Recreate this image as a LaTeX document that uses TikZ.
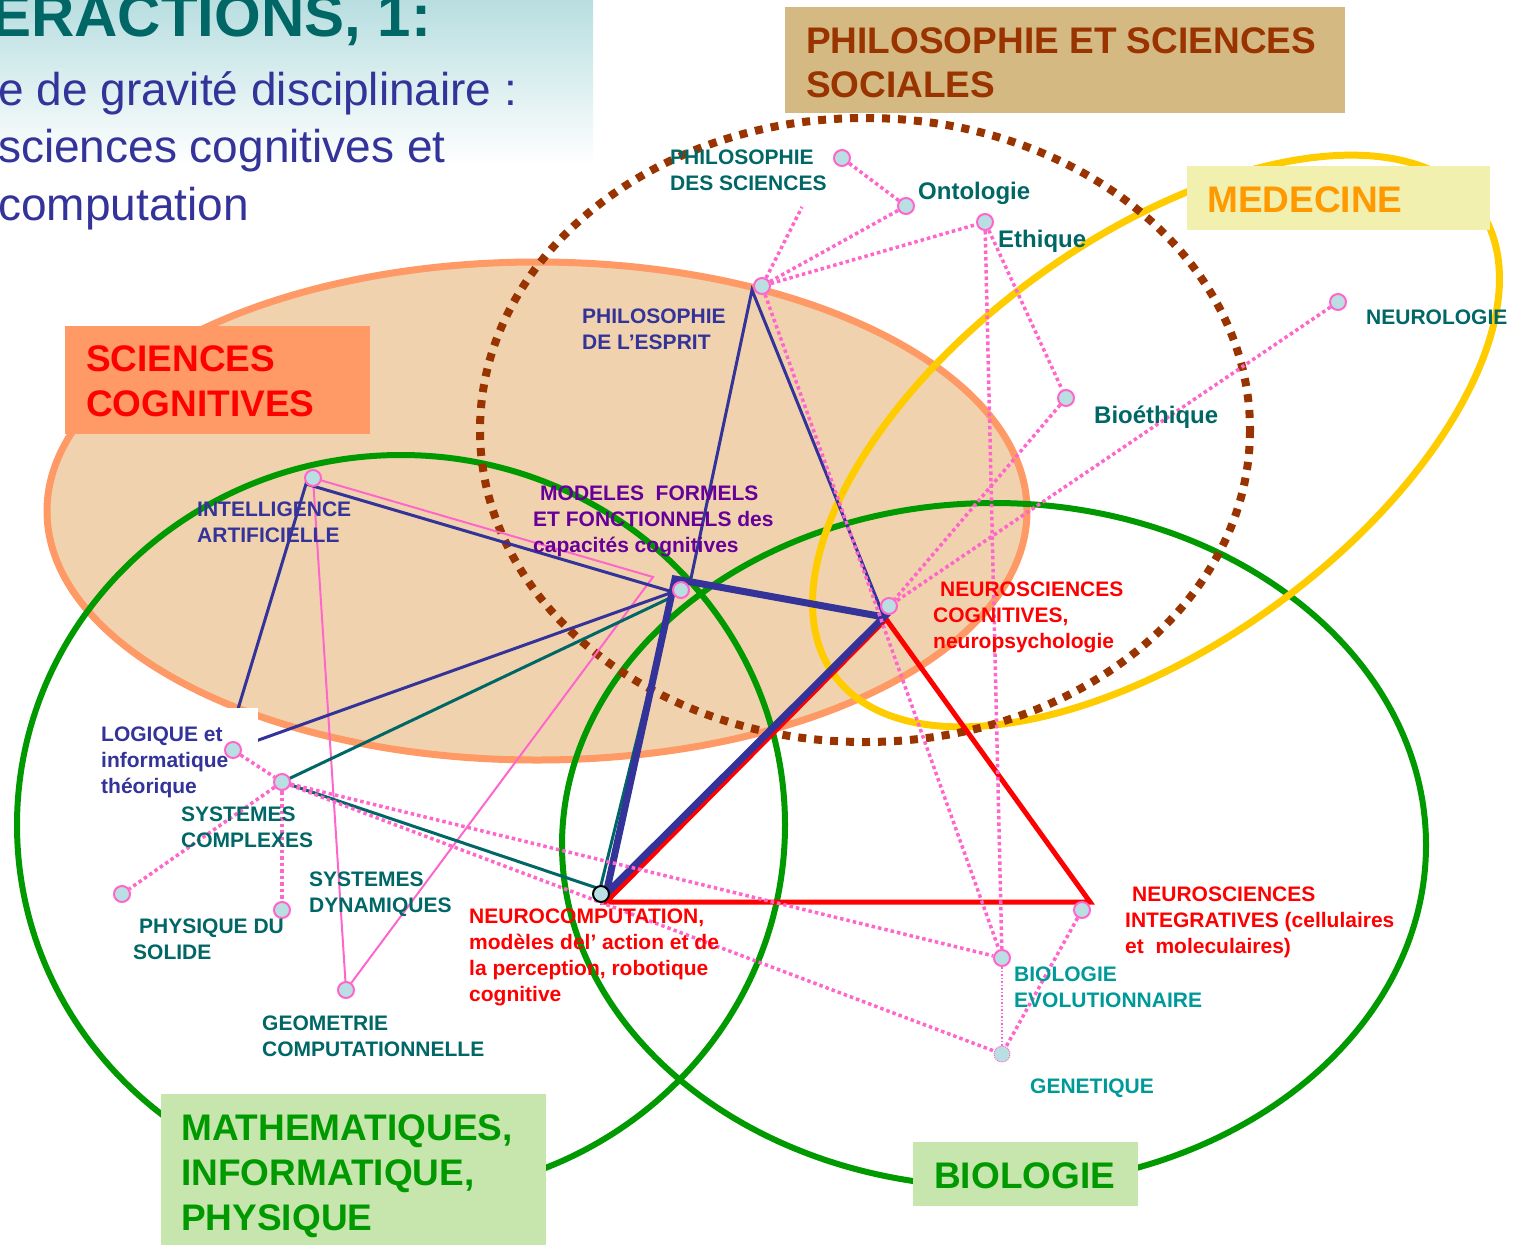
\documentclass[tikz,border=0pt]{standalone}
\usepackage{fontspec}
\setmainfont{Liberation Sans}
\definecolor{tealc}{HTML}{006666}
\definecolor{teallt}{HTML}{009999}
\definecolor{bluec}{HTML}{333399}
\definecolor{purplec}{HTML}{660099}
\definecolor{redc}{HTML}{FF0000}
\definecolor{pinkc}{HTML}{FF66CC}
\definecolor{dotfill}{HTML}{B9DFE3}
\definecolor{orangef}{HTML}{F0D3AE}
\definecolor{orangeb}{HTML}{FF9966}
\definecolor{greenc}{HTML}{009900}
\definecolor{brownc}{HTML}{993300}
\definecolor{yellowc}{HTML}{FFCC00}
\definecolor{tanbox}{HTML}{D5B982}
\definecolor{medbox}{HTML}{F2F0AE}
\definecolor{greenbox}{HTML}{C6E6AE}
\definecolor{medtext}{HTML}{FF9900}
\definecolor{bgtop}{HTML}{B8DEE0}
\pgfdeclarelayer{ell}
\pgfdeclarelayer{solid}
\pgfdeclarelayer{wbox}
\pgfdeclarelayer{dotl}
\pgfsetlayers{ell,solid,wbox,dotl,main}
\tikzset{
  hub/.style={circle, minimum size=16pt, inner sep=0pt, fill=dotfill, draw=pinkc, line width=2pt},
  lab/.style={anchor=base west, inner sep=0pt, align=left, font=\bfseries\fontsize{21}{26}\selectfont},
  labb/.style={anchor=base west, inner sep=0pt, align=left, font=\bfseries\fontsize{24}{28}\selectfont, text=tealc},
  biglab/.style={anchor=base west, inner sep=0pt, align=left, font=\bfseries\fontsize{37}{45}\selectfont},
  pdot/.style={draw=pinkc, line width=3.5pt, dash pattern=on 3.5pt off 3pt},
  bluethin/.style={draw=bluec, line width=3pt},
  bluethick/.style={draw=bluec, line width=7pt, line join=miter},
  tealline/.style={draw=tealc, line width=3pt},
  redline/.style={draw=redc, line width=5pt, line join=miter},
  pinkline/.style={draw=pinkc, line width=2pt}
}
\begin{document}
\begin{tikzpicture}[x=1pt,y=-1pt]
\useasboundingbox (0,0) rectangle (1514,1245);

% ---------- dots ----------
\node[hub] (phsci) at (842,158) {};
\node[hub] (onto) at (906,206) {};
\node[hub] (ethique) at (985,222) {};
\node[hub] (phesp) at (762,286) {};
\node[hub] (bioeth) at (1066,398) {};
\node[hub] (neurol) at (1338,302) {};
\node[hub] (ia) at (313,478) {};
\node[hub] (mod) at (681,590) {};
\node[hub] (ncog) at (889,606) {};
\node[hub] (logique) at (233,750) {};
\node[hub] (scx) at (282,782) {};
\node[hub] (physol) at (122,894) {};
\node[hub] (sysdyn) at (282,910) {};
\node[hub] (geom) at (346,990) {};
\node[hub, draw=black] (ncomp) at (601,894) {};
\node[hub] (nint) at (1082,910) {};
\node[hub] (bioevo) at (1002,958) {};
\node[hub, draw=pinkc, line width=1pt, densely dotted] (genet) at (1002,1054) {};

% ---------- corner coordinates ----------
\coordinate (iaA) at (306,484);
\coordinate (lgC) at (225,752);
\coordinate (modT) at (673,592);
\coordinate (modT2) at (672,597);
\coordinate (modC) at (675,579);
\coordinate (ncogC) at (884,617);
\coordinate (ncogR) at (886,619);
\coordinate (ncompC) at (606,894);
\coordinate (ncompT) at (600,889);
\coordinate (ncompR) at (606,902);
\coordinate (nintC) at (1090,902);
\coordinate (phA) at (752,290);
\coordinate (phB) at (690,583);
\coordinate (pinkP) at (653,577);
\coordinate (phsciEnd) at (802,207);

% ---------- ellipses and boxes ----------
\begin{pgfonlayer}{ell}
  \shade[top color=bgtop, bottom color=white] (0,0) rectangle (593,165);
  \draw[line width=7pt, draw=orangeb, fill=orangef] (537,511) ellipse [x radius=490, y radius=249];
  \draw[line width=6pt, draw=greenc] (401,825) ellipse [x radius=384, y radius=370];
  \draw[line width=6pt, draw=greenc] (994,845) ellipse [x radius=432, y radius=342];
  \draw[line width=7pt, draw=yellowc, rotate around={36:(1156,441)}] (1156,441) ellipse [x radius=398, y radius=203];
  \draw[line width=8pt, draw=brownc, dash pattern=on 8pt off 8pt] (865,430) ellipse [x radius=385, y radius=312];
  \fill[tanbox] (785,7) rectangle (1345,113);
  \fill[medbox] (1187,166) rectangle (1490,230);
  \fill[orangeb] (65,326) rectangle (370,434);
  \fill[greenbox] (161,1094) rectangle (546,1245);
  \fill[greenbox] (913,1142) rectangle (1138,1206);
\end{pgfonlayer}

% ---------- solid connectors ----------
\begin{pgfonlayer}{solid}
  \draw[pinkline] (ia.center) -- (pinkP) -- (geom.center) -- cycle;
  \draw[bluethin] (iaA) -- (lgC) -- (modT) -- cycle;
  \draw[bluethin] (phB) -- (phA) -- (ncogC);
  \draw[tealline] (scx.center) -- (modT2) -- (ncompT) -- cycle;
  \draw[redline] (ncompR) -- (nintC) -- (ncogR) -- cycle;
  \draw[bluethick] (modC) -- (ncogC) -- (ncompC) -- cycle;
\end{pgfonlayer}

\begin{pgfonlayer}{wbox}
  \fill[white] (95,708) rectangle (258,800);
\end{pgfonlayer}

% ---------- dotted connectors ----------
\begin{pgfonlayer}{dotl}
  \draw[pdot] (phsci) -- (onto);
  \draw[pdot] (phesp) -- (phsciEnd);
  \draw[pdot] (phesp) -- (onto);
  \draw[pdot] (phesp) -- (ethique);
  \draw[pdot] (ethique) -- (bioeth);
  \draw[pdot] (ethique) -- (bioevo);
  \draw[pdot] (phesp) -- (bioevo);
  \draw[pdot] (bioeth) -- (ncog);
  \draw[pdot] (neurol) -- (ncog);
  \draw[pdot] (logique) -- (scx);
  \draw[pdot] (scx) -- (physol);
  \draw[pdot] (scx) -- (sysdyn);
  \draw[pdot] (scx) -- (bioevo);
  \draw[pdot] (scx) -- (genet);
  \draw[pdot] (nint) -- (genet);
  \draw[pdot, line width=1.5pt, dash pattern=on 1.5pt off 2pt] (bioevo) -- (genet);
\end{pgfonlayer}

% ---------- title ----------
\node[anchor=base west, inner sep=0pt, text=tealc, font=\bfseries\fontsize{60}{62}\selectfont] (title) at (-9,36) {ERACTIONS, 1:};
\node[anchor=base west, inner sep=0pt, align=left, text=bluec, font=\fontsize{46}{57.5}\selectfont] (subtitle) at (-2,220) {e de gravité disciplinaire :\\sciences cognitives et\\computation};

% ---------- big labels ----------
\node[biglab, text=brownc, font=\bfseries\fontsize{37}{44}\selectfont] (philoL) at (806,97) {PHILOSOPHIE ET SCIENCES\\SOCIALES};
\node[biglab, text=medtext] (medL) at (1207,212) {MEDECINE};
\node[biglab, text=redc] (scicogL) at (86,416) {SCIENCES\\COGNITIVES};
\node[biglab, text=greenc] (mathL) at (181,1230) {MATHEMATIQUES,\\INFORMATIQUE,\\PHYSIQUE};
\node[biglab, text=greenc] (bioL) at (934,1188) {BIOLOGIE};

% ---------- small labels ----------
\node[lab, text=tealc] (phsciL) at (670,190) {PHILOSOPHIE\\DES SCIENCES};
\node[labb] (ontoL) at (918,199) {Ontologie};
\node[labb] (ethL) at (998,247) {Ethique};
\node[labb] (bioethL) at (1094,423) {Bioéthique};
\node[lab, text=tealc] (neurolL) at (1366,324) {NEUROLOGIE};
\node[lab, text=bluec] (phespL) at (582,349) {PHILOSOPHIE\\DE L’ESPRIT};
\node[lab, text=bluec] (iaL) at (197,542) {INTELLIGENCE\\ARTIFICIELLE};
\node[lab, text=purplec] (modL) at (533,552) {\kern7pt MODELES~~FORMELS\\ET FONCTIONNELS des\\capacités cognitives};
\node[lab, text=redc] (ncogL) at (933,648) {\kern7pt NEUROSCIENCES\\COGNITIVES,\\neuropsychologie};
\node[lab, text=bluec] (logL) at (101,793) {LOGIQUE et\\informatique\\théorique};
\node[lab, text=tealc] (scxL) at (181,847) {SYSTEMES\\COMPLEXES};
\node[lab, text=tealc] (sdynL) at (309,912) {SYSTEMES\\DYNAMIQUES};
\node[lab, text=tealc] (physL) at (133,959) {\kern6pt PHYSIQUE DU\\SOLIDE};
\node[lab, text=tealc] (geomL) at (262,1056) {GEOMETRIE\\COMPUTATIONNELLE};
\node[lab, text=redc] (ncompL) at (469,1001) {NEUROCOMPUTATION,\\modèles del’ action et de\\la perception, robotique\\cognitive};
\node[lab, text=redc] (nintL) at (1125,953) {\kern7pt NEUROSCIENCES\\INTEGRATIVES (cellulaires\\et~~moleculaires)};
\node[lab, text=teallt] (bioevoL) at (1014,1007) {BIOLOGIE\\EVOLUTIONNAIRE};
\node[lab, text=teallt] (genetL) at (1030,1093) {GENETIQUE};
\end{tikzpicture}
\end{document}
